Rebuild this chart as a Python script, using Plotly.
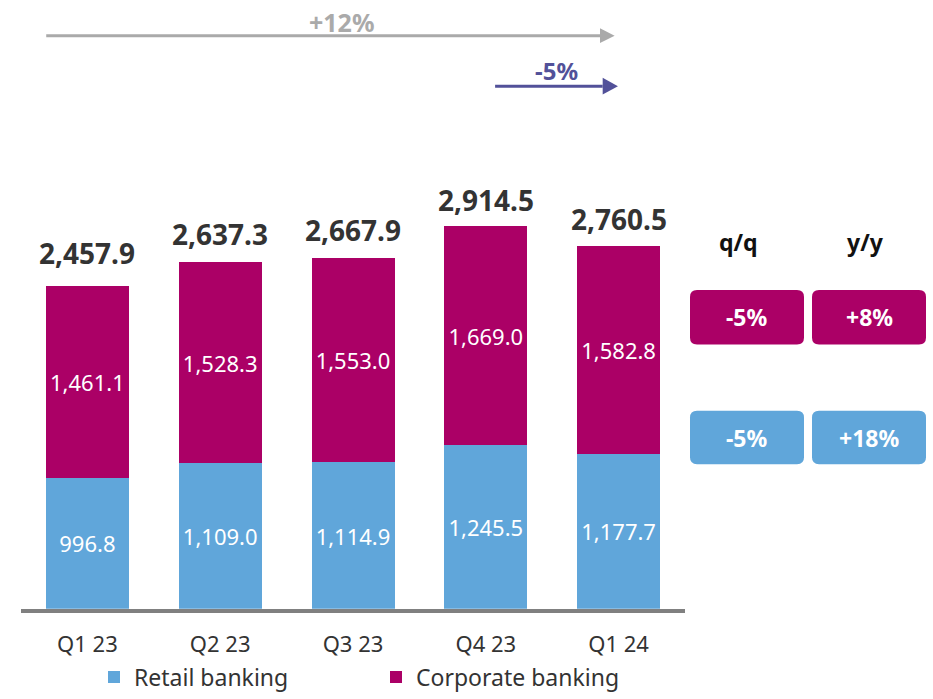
import plotly.graph_objects as go

# Quarterly income split by segment (EUR m)
quarters = ["Q1 23", "Q2 23", "Q3 23", "Q4 23", "Q1 24"]
retail = [996.8, 1109.0, 1114.9, 1245.5, 1177.7]
corporate = [1461.1, 1528.3, 1553.0, 1669.0, 1582.8]
totals = [round(r + c, 1) for r, c in zip(retail, corporate)]

RETAIL_COLOR = "#60A6DA"
CORP_COLOR = "#AB0066"
GREY = "#AAAAAA"
PURPLE = "#525199"
TEXT = "#333333"
FONT = "Noto Sans"

W, H = 933, 699
TOTAL_LIFT = [11.5, 7, 7.5, 5, 6]  # px gap between stack top and its total label


def px(x):
    return x / W


def py(y):
    return 1 - y / H


def pct(new, old):
    return f"{(new / old - 1) * 100:+.0f}%"


fig = go.Figure()
for name, vals, color in [("Retail banking", retail, RETAIL_COLOR),
                          ("Corporate banking", corporate, CORP_COLOR)]:
    fig.add_trace(go.Bar(
        x=quarters, y=vals, name=name,
        marker=dict(color=color, line=dict(width=0)),
        width=0.625,
        text=[f"{v:,.1f}" for v in vals], textposition="inside",
        insidetextanchor="middle", textangle=0, constraintext="none",
        textfont=dict(color="white", size=22, family=FONT),
    ))

annotations = []
# Totals above each stack
for q, t, lift in zip(quarters, totals, TOTAL_LIFT):
    annotations.append(dict(
        x=q, y=t, xref="x", yref="y", text=f"<b>{t:,.1f}</b>",
        showarrow=False, xanchor="center", yanchor="bottom", yshift=lift,
        font=dict(size=28, color=TEXT, family=FONT),
    ))

shapes = []


def arrow(x0, x1, y, color, width, head_len, head_half):
    shapes.append(dict(type="line", xref="x", yref="paper",
                       x0=x0, x1=x1 - head_len, y0=py(y), y1=py(y),
                       line=dict(color=color, width=width)))
    shapes.append(dict(type="path", xref="x", yref="paper",
                       path=(f"M{x1 - head_len},{py(y - head_half)} "
                             f"L{x1},{py(y)} L{x1 - head_len},{py(y + head_half)} Z"),
                       fillcolor=color, line=dict(width=0)))


# Growth arrows: full period (grey) and last quarter (purple)
arrow(-0.31, 3.97, 36, GREY, 3, 0.11, 7.5)
arrow(3.07, 3.995, 87, PURPLE, 3, 0.115, 8.5)
annotations.append(dict(x=1.91, y=py(22), xref="x", yref="paper",
                        text=f"<b>{pct(totals[-1], totals[0])}</b>", showarrow=False,
                        xanchor="center", yanchor="middle",
                        font=dict(size=25, color=GREY, family=FONT)))
annotations.append(dict(x=3.53, y=py(71), xref="x", yref="paper",
                        text=f"<b>{pct(totals[-1], totals[-2])}</b>", showarrow=False,
                        xanchor="center", yanchor="middle",
                        font=dict(size=24, color=PURPLE, family=FONT)))


def rbox(x0, y0, x1, y1, color, r=7):
    p = (f"M{px(x0 + r)},{py(y0)} L{px(x1 - r)},{py(y0)} "
         f"Q{px(x1)},{py(y0)} {px(x1)},{py(y0 + r)} "
         f"L{px(x1)},{py(y1 - r)} Q{px(x1)},{py(y1)} {px(x1 - r)},{py(y1)} "
         f"L{px(x0 + r)},{py(y1)} Q{px(x0)},{py(y1)} {px(x0)},{py(y1 - r)} "
         f"L{px(x0)},{py(y0 + r)} Q{px(x0)},{py(y0)} {px(x0 + r)},{py(y0)} Z")
    shapes.append(dict(type="path", xref="paper", yref="paper", path=p,
                       fillcolor=color, line=dict(width=0)))


# q/q and y/y change boxes per segment
cols = [(690, 804), (812, 926)]
rows = [((293, 348), CORP_COLOR, corporate), ((415, 469), RETAIL_COLOR, retail)]
for (y0, y1), color, series in rows:
    vals = [pct(series[-1], series[-2]), pct(series[-1], series[0])]
    for (x0, x1), v in zip(cols, vals):
        rbox(x0, y0, x1, y1, color)
        annotations.append(dict(x=px((x0 + x1) / 2), y=py((y0 + y1) / 2),
                                xref="paper", yref="paper", text=f"<b>{v}</b>",
                                showarrow=False, xanchor="center", yanchor="middle",
                                font=dict(size=23, color="white", family=FONT)))

for label, xc in [("q/q", 738), ("y/y", 865)]:
    annotations.append(dict(x=px(xc), y=py(244), xref="paper", yref="paper",
                            text=f"<b>{label}</b>", showarrow=False,
                            xanchor="center", yanchor="middle",
                            font=dict(size=23, color="#111111", family=FONT)))

fig.update_layout(
    width=W, height=H, autosize=False,
    margin=dict(l=0, r=0, t=0, b=0),
    paper_bgcolor="white", plot_bgcolor="white",
    barmode="stack", bargap=0.375,
    showlegend=True,
    legend=dict(orientation="h", traceorder="normal",
                x=px(94), y=py(684), xanchor="left", yanchor="middle",
                entrywidth=237, entrywidthmode="pixels",
                font=dict(size=23, color=TEXT, family=FONT),
                bgcolor="rgba(0,0,0,0)"),
    xaxis=dict(domain=[px(21), px(685)], range=[-0.5, 4.5],
               showline=True, linecolor="#808080", linewidth=4,
               showgrid=False, zeroline=False, ticks="",
               ticklabelstandoff=13,
               tickfont=dict(size=22, color=TEXT, family=FONT)),
    yaxis=dict(domain=[py(615), 1], range=[0, 615 / 0.1327],
               visible=False, showgrid=False, zeroline=False),
    shapes=shapes, annotations=annotations,
    font=dict(family=FONT),
)

fig.write_html("out.html")
